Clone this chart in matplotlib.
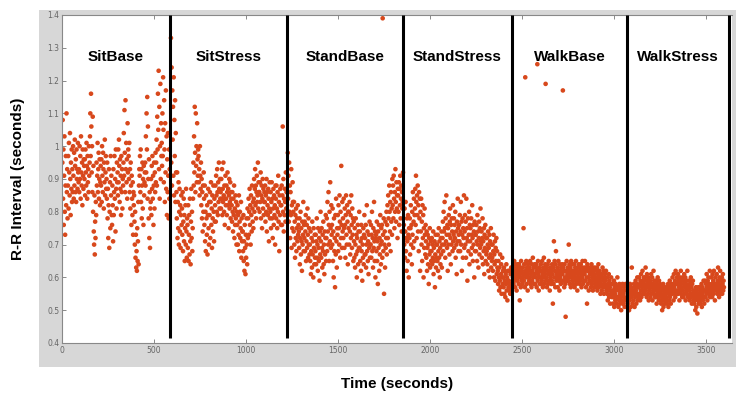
import numpy as np
import matplotlib
matplotlib.use("Agg")
import matplotlib.pyplot as plt

# ---------------- data (R-R intervals in hundredths of a second) ----------------
# each segment: uniformly sampled sequence, dt = 1.875 s (16 samples per 30 s)
sample_dt = 1.875

phase_names = ["SitBase", "SitStress", "StandBase", "StandStress", "WalkBase", "WalkStress"]
phase_bounds = [587, 1223, 1853, 2446, 3070, 3625]   # end time of each phase (s)
phase_starts = [2, 592, 1227, 1858, 2450, 3074]      # first sample time of each phase (s)

sitbase_rr = [
    95, 108, 84, 99, 76, 91, 103, 80, 73, 88, 97, 82, 110, 86, 93, 78,
    88, 97, 81, 101, 92, 85, 104, 90, 79, 95, 87, 99, 83, 93, 86, 100,
    91, 84, 98, 88, 102, 94, 86, 96, 83, 99, 90, 93, 87, 101, 92, 89,
    93, 86, 100, 90, 97, 84, 103, 92, 88, 95, 82, 99, 91, 87, 96, 94,
    90, 96, 85, 99, 92, 88, 101, 94, 84, 97, 89, 93, 86, 100, 91, 95,
    103, 110, 97, 116, 106, 92, 100, 86, 109, 80, 94, 74, 70, 85, 67, 77,
    72, 83, 79, 95, 88, 91, 101, 86, 93, 98, 84, 90, 96, 82, 89, 94,
    88, 96, 83, 100, 91, 86, 98, 93, 81, 95, 89, 102, 85, 92, 97, 87,
    90, 84, 95, 78, 87, 72, 82, 93, 69, 80, 89, 75, 97, 85, 91, 79,
    76, 88, 82, 71, 93, 79, 86, 97, 84, 90, 74, 99, 87, 81, 95, 89,
    92, 85, 99, 89, 102, 94, 83, 96, 87, 91, 79, 97, 86, 93, 81, 90,
    88, 95, 104, 91, 111, 98, 86, 114, 93, 101, 89, 96, 84, 107, 92, 99,
    97, 90, 101, 86, 93, 81, 95, 88, 76, 91, 84, 79, 89, 73, 86, 82,
    85, 77, 70, 80, 66, 73, 63, 68, 62, 75, 65, 71, 83, 64, 88, 93,
    91, 97, 86, 99, 83, 93, 78, 88, 95, 81, 90, 76, 94, 85, 89, 92,
    95, 88, 103, 92, 110, 99, 115, 84, 106, 90, 78, 96, 72, 86, 69, 81,
    83, 90, 79, 94, 87, 97, 84, 91, 76, 88, 95, 81, 92, 86, 98, 89,
    95, 102, 88, 109, 99, 116, 105, 123, 93, 112, 84, 100, 119, 90, 107, 97,
    101, 94, 110, 97, 121, 105, 89, 114, 99, 83, 107, 92, 117, 87, 103, 79,
    96, 86, 104, 91, 78, 99, 84, 93,
]

sitstress_rr = [
    133, 95, 124, 88, 117, 102, 112, 91, 121, 85, 108, 97, 114, 83, 104, 92,
    86, 78, 92, 72, 83, 75, 89, 70, 80, 87, 74, 82, 69, 79, 85, 76,
    81, 73, 86, 68, 77, 84, 71, 79, 65, 75, 82, 70, 87, 74, 66, 78,
    76, 69, 82, 65, 73, 79, 67, 84, 71, 64, 77, 87, 72, 80, 68, 75,
    84, 95, 88, 103, 92, 112, 98, 86, 110, 94, 100, 89, 107, 96, 91, 99,
    97, 89, 93, 85, 100, 91, 87, 95, 82, 90, 78, 86, 74, 88, 80, 92,
    84, 76, 88, 71, 80, 68, 85, 78, 73, 82, 67, 79, 87, 75, 70, 83,
    79, 86, 72, 83, 89, 76, 81, 69, 85, 78, 74, 88, 80, 71, 84, 77,
    82, 88, 77, 91, 85, 80, 93, 86, 79, 89, 83, 95, 87, 81, 90, 84,
    86, 81, 90, 84, 93, 79, 87, 83, 95, 85, 80, 88, 76, 84, 91, 82,
    84, 88, 79, 86, 92, 82, 87, 75, 85, 90, 81, 83, 89, 78, 86, 84,
    82, 77, 86, 80, 74, 84, 79, 88, 72, 81, 76, 85, 78, 83, 70, 80,
    76, 82, 70, 79, 73, 85, 68, 77, 80, 72, 75, 83, 66, 78, 71, 74,
    74, 68, 79, 65, 71, 62, 76, 69, 61, 73, 66, 78, 70, 64, 81, 72,
    78, 84, 73, 80, 87, 76, 82, 70, 85, 79, 74, 88, 81, 77, 83, 75,
    84, 90, 80, 87, 93, 82, 88, 78, 86, 91, 83, 85, 95, 81, 89, 86,
    86, 80, 89, 83, 92, 78, 85, 88, 75, 84, 90, 81, 87, 79, 83, 86,
    83, 88, 77, 85, 80, 90, 74, 86, 82, 79, 87, 84, 71, 81, 89, 78,
    80, 86, 75, 83, 89, 78, 84, 72, 81, 87, 76, 85, 79, 82, 70, 88,
    84, 78, 88, 81, 75, 86, 80, 91, 77, 83, 68, 85, 79, 87, 82, 76,
    82, 88, 76, 85, 106, 80, 90, 74, 84, 79, 87, 83, 77, 92, 81, 86,
]

standbase_rr = [
    98, 84, 91, 77, 95, 80, 88, 72, 86, 79, 93, 69, 82, 75, 89, 83,
    80, 74, 83, 70, 77, 66, 79, 72, 81, 68, 75, 78, 71, 82, 73, 76,
    74, 69, 78, 64, 72, 80, 67, 75, 71, 62, 77, 70, 73, 83, 68, 76,
    72, 77, 68, 74, 79, 65, 71, 76, 69, 81, 73, 66, 78, 70, 75, 67,
    70, 65, 74, 61, 68, 72, 63, 77, 67, 71, 60, 75, 69, 64, 73, 66,
    68, 73, 64, 71, 78, 66, 70, 62, 75, 69, 65, 72, 59, 74, 67, 80,
    71, 66, 75, 69, 63, 73, 68, 77, 64, 70, 61, 74, 67, 72, 79, 65,
    72, 78, 68, 83, 74, 70, 86, 76, 65, 80, 71, 89, 75, 69, 82, 73,
    76, 70, 81, 65, 74, 60, 78, 68, 72, 57, 79, 67, 84, 71, 63, 75,
    73, 79, 68, 82, 75, 70, 85, 77, 66, 80, 72, 94, 76, 69, 83, 74,
    78, 72, 84, 75, 69, 81, 76, 66, 79, 85, 73, 70, 82, 77, 64, 80,
    75, 80, 70, 83, 74, 67, 79, 72, 85, 76, 69, 81, 73, 78, 65, 77,
    71, 66, 75, 63, 70, 78, 67, 73, 60, 72, 68, 76, 64, 74, 69, 80,
    69, 74, 65, 71, 62, 76, 68, 72, 59, 70, 66, 75, 64, 73, 79, 67,
    72, 67, 76, 63, 70, 82, 68, 74, 65, 71, 61, 73, 69, 77, 66, 70,
    70, 76, 66, 73, 80, 68, 72, 63, 75, 69, 83, 71, 65, 74, 60, 72,
    73, 68, 77, 65, 71, 58, 74, 69, 76, 62, 72, 67, 79, 70, 64, 75,
    71, 76, 66, 139, 73, 68, 78, 55, 70, 74, 63, 77, 69, 72, 80, 67,
    76, 82, 72, 85, 78, 70, 88, 80, 74, 83, 68, 86, 77, 81, 73, 90,
    82, 88, 78, 91, 84, 75, 86, 80, 93, 83, 77, 89, 81, 85, 72, 87,
    85, 80, 89, 76, 87, 82, 91, 78, 84, 88, 74, 86, 81, 83, 92,
]

standstress_rr = [
    76, 70, 81, 66, 74, 83, 68, 72, 62, 78, 71, 65, 79, 73, 60, 75,
    72, 78, 67, 75, 82, 70, 76, 64, 80, 73, 86, 69, 77, 84, 71, 79,
    81, 87, 76, 91, 83, 72, 85, 79, 88, 74, 82, 68, 86, 78, 84, 62,
    80, 74, 84, 70, 77, 65, 82, 72, 79, 60, 75, 69, 81, 73, 67, 76,
    71, 66, 74, 62, 69, 73, 64, 70, 58, 72, 67, 75, 63, 68, 71, 65,
    68, 72, 64, 70, 66, 74, 61, 69, 65, 71, 57, 67, 73, 63, 70, 66,
    70, 65, 73, 62, 68, 75, 66, 71, 60, 69, 64, 72, 67, 74, 63, 70,
    72, 77, 68, 80, 74, 70, 83, 75, 66, 78, 71, 85, 73, 69, 76, 62,
    75, 70, 79, 73, 67, 77, 81, 72, 64, 76, 70, 78, 74, 68, 82, 71,
    73, 78, 69, 76, 72, 80, 66, 74, 70, 61, 77, 71, 84, 75, 68, 73,
    76, 71, 79, 68, 74, 83, 70, 77, 62, 73, 78, 66, 75, 72, 85, 69,
    74, 79, 70, 77, 66, 84, 72, 75, 59, 71, 78, 68, 73, 80, 64, 76,
    71, 75, 67, 78, 73, 69, 82, 72, 65, 76, 70, 74, 60, 77, 68, 73,
    73, 68, 76, 71, 65, 79, 70, 74, 63, 72, 77, 67, 75, 69, 81, 71,
    70, 74, 66, 72, 78, 64, 71, 68, 75, 61, 73, 69, 76, 65, 72, 67,
    68, 72, 64, 70, 74, 62, 69, 66, 73, 60, 71, 67, 75, 63, 70, 65,
    66, 70, 62, 68, 73, 60, 67, 64, 71, 59, 69, 65, 72, 61, 68, 63,
    62, 58, 65, 60, 56, 63, 59, 67, 57, 61, 64, 55, 60, 66, 58, 62,
    60, 57, 63, 55, 59, 62, 54, 61, 58, 64, 56, 60, 53, 59, 62, 57,
    59, 56, 62, 58, 55, 61, 57, 63,
]

walkbase_rr = [
    60, 63, 58, 62, 65, 59, 61, 57, 64, 60, 62, 56, 63, 59, 61, 64,
    62, 58, 64, 60, 53, 61, 63, 57, 65, 59, 62, 60, 58, 63, 61, 75,
    59, 64, 61, 57, 121, 62, 60, 65, 58, 63, 61, 56, 64, 60, 62, 59,
    63, 60, 65, 58, 62, 61, 57, 64, 59, 62, 66, 60, 63, 58, 61, 64,
    61, 58, 63, 60, 64, 57, 62, 125, 59, 65, 61, 56, 63, 60, 58, 62,
    60, 64, 58, 62, 59, 65, 61, 57, 63, 60, 66, 58, 62, 61, 64, 119,
    59, 63, 60, 57, 62, 64, 58, 61, 65, 59, 62, 56, 63, 60, 61, 58,
    62, 59, 64, 61, 52, 63, 58, 71, 60, 65, 62, 57, 64, 68, 59, 61,
    60, 63, 57, 62, 65, 59, 61, 56, 64, 60, 62, 58, 63, 61, 59, 64,
    61, 117, 63, 59, 62, 57, 64, 60, 58, 48, 62, 60, 65, 59, 61, 63,
    59, 62, 70, 60, 64, 58, 61, 63, 57, 65, 60, 62, 59, 64, 61, 58,
    62, 60, 64, 57, 61, 63, 59, 65, 58, 62, 60, 56, 63, 61, 59, 64,
    60, 63, 58, 62, 59, 64, 61, 57, 63, 60, 65, 58, 61, 62, 59, 63,
    61, 65, 59, 62, 57, 63, 60, 52, 64, 58, 62, 60, 56, 63, 59, 61,
    59, 62, 57, 61, 64, 58, 60, 63, 56, 62, 59, 61, 57, 63, 60, 58,
    60, 57, 62, 59, 63, 56, 61, 58, 64, 60, 57, 62, 59, 61, 55, 60,
    58, 61, 56, 60, 63, 57, 59, 62, 55, 60, 58, 61, 57, 59, 62, 56,
    57, 55, 60, 53, 58, 56, 61, 54, 59, 57, 52, 58, 55, 60, 56, 54,
    55, 58, 52, 56, 54, 59, 51, 57, 55, 53, 58, 56, 52, 57, 54, 60,
    54, 57, 51, 56, 53, 58, 55, 52, 57, 54, 50, 56, 53, 55, 58, 52,
    55, 52, 57, 54, 51, 56, 53, 58,
]

walkstress_rr = [
    55, 52, 57, 54, 50, 56, 53, 58, 55, 51, 57, 54, 63, 56, 52, 55,
    56, 53, 58, 55, 51, 57, 54, 59, 56, 52, 58, 55, 60, 53, 57, 54,
    57, 60, 55, 58, 53, 59, 56, 61, 54, 58, 57, 62, 55, 59, 56, 60,
    58, 55, 60, 57, 63, 56, 59, 54, 61, 57, 58, 55, 60, 53, 59, 57,
    56, 59, 54, 58, 61, 55, 57, 60, 53, 58, 56, 62, 55, 59, 57, 54,
    57, 54, 59, 56, 52, 58, 55, 60, 54, 57, 53, 59, 56, 55, 58, 53,
    55, 52, 57, 54, 50, 56, 53, 58, 51, 55, 54, 57, 52, 56, 53, 55,
    54, 57, 52, 56, 53, 58, 51, 55, 57, 53, 59, 54, 56, 52, 58, 55,
    57, 55, 60, 56, 58, 53, 61, 57, 55, 59, 54, 62, 56, 58, 55, 60,
    58, 56, 61, 55, 59, 57, 53, 60, 56, 58, 62, 55, 59, 57, 54, 60,
    56, 59, 54, 58, 61, 55, 57, 60, 53, 58, 56, 59, 55, 62, 57, 54,
    57, 54, 59, 56, 53, 58, 55, 60, 54, 57, 52, 58, 55, 59, 56, 53,
    54, 52, 56, 53, 50, 55, 57, 51, 54, 56, 49, 55, 53, 57, 52, 54,
    55, 53, 57, 52, 56, 54, 58, 51, 55, 57, 53, 56, 59, 54, 52, 56,
    56, 59, 54, 58, 55, 61, 57, 53, 59, 56, 60, 55, 58, 57, 62, 54,
    57, 55, 60, 56, 58, 54, 61, 57, 59, 55, 62, 56, 58, 53, 60, 57,
    58, 56, 61, 57, 55, 59, 63, 56, 58, 54, 60, 57, 62, 55, 59, 56,
    57, 60, 55, 58, 61, 56, 59, 57,
]

x_ticks = [0, 500, 1000, 1500, 2000, 2500, 3000, 3500]
y_ticks = [0.4, 0.5, 0.6, 0.7, 0.8, 0.9, 1.0, 1.1, 1.2, 1.3, 1.4]
y_ticklabels = ["0.4", "0.5", "0.6", "0.7", "0.8", "0.9", "1", "1.1", "1.2", "1.3", "1.4"]

# ---------------- figure ----------------
W, H = 736, 396
fig = plt.figure(figsize=(W / 100, H / 100), dpi=100)
fig.patch.set_facecolor("white")

# grey MATLAB-style frame (an axes-less background panel)
bg = fig.add_axes([39 / W, (H - 367) / H, (W - 39) / W, (367 - 10) / H], zorder=0)
bg.set_facecolor("#d7d7d7")
bg.set_xticks([])
bg.set_yticks([])
for sp in bg.spines.values():
    sp.set_visible(False)

ax = fig.add_axes([62 / W, (H - 343) / H, 670 / W, 328 / H], zorder=1)
ax.set_facecolor("white")
ax.set_xlim(0, 3641)
ax.set_ylim(0.4, 1.4)

color = "#d8481c"
series = [sitbase_rr, sitstress_rr, standbase_rr, standstress_rr, walkbase_rr, walkstress_rr]
for start, rr in zip(phase_starts, series):
    vals = np.asarray(rr, dtype=float) / 100.0
    t = start + sample_dt * np.arange(len(vals))
    ax.scatter(t, vals, s=11, c=color, edgecolors="none", zorder=2)

ax.vlines(phase_bounds, 0.415, 1.4, colors="black", linewidth=2.2, zorder=3)

prev = 0
for name, b in zip(phase_names, phase_bounds):
    ax.text((prev + b) / 2, 1.272, name, ha="center", va="center",
            fontsize=11, fontweight="bold", family="Liberation Sans", zorder=4)
    prev = b

ax.set_xticks(x_ticks)
ax.set_xticklabels([str(v) for v in x_ticks])
ax.set_yticks(y_ticks)
ax.set_yticklabels(y_ticklabels)
ax.tick_params(direction="in", length=3, width=0.6, colors="#777777",
               labelsize=5.5, labelcolor="#666666", top=True, right=False, pad=2)
for sp in ax.spines.values():
    sp.set_color("#888888")
    sp.set_linewidth(0.8)
ax.spines["right"].set_visible(False)

fig.text(397 / W, 1 - 384 / H, "Time (seconds)", ha="center", va="center",
         fontsize=11, fontweight="bold", family="Liberation Sans")
fig.text(18 / W, 1 - 179 / H, "R-R Interval (seconds)", ha="center", va="center",
         rotation=90, fontsize=11, fontweight="bold", family="Liberation Sans")

fig.savefig("out.png", dpi=100, facecolor="white")
